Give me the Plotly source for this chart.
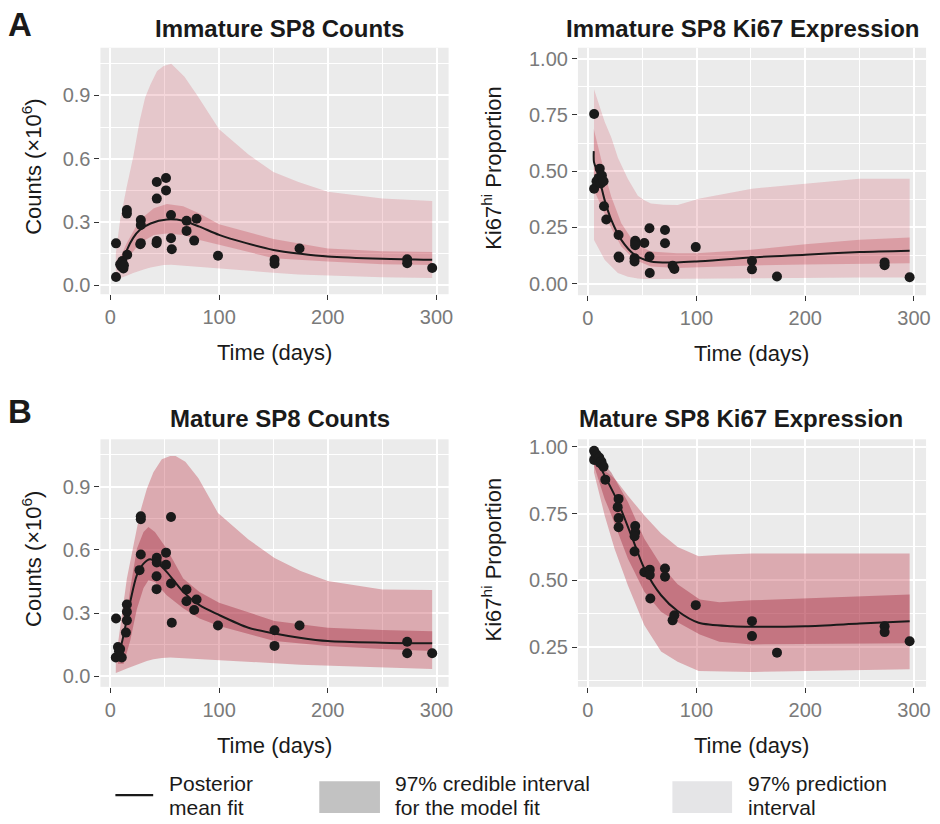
import plotly.graph_objects as go

# ---------------- data ----------------
# Panel A-left: Immature SP8 counts (x10^6)
imm_cnt_t = [5.2, 5.2, 9, 10, 11, 12, 12.5, 15.2, 15.2, 15.5, 28, 28, 28, 27.5, 42.7, 42.7, 42.5, 42.7,
             51.2, 51.2, 55.8, 55.8, 56.5, 70.1, 70.1, 77.1, 79.3, 99, 151, 151, 174, 273, 273, 296]
imm_cnt_y = [0.199, 0.040, 0.10, 0.09, 0.115, 0.08, 0.095, 0.357, 0.34, 0.145, 0.31, 0.286, 0.2, 0.195,
             0.49, 0.411, 0.2, 0.21, 0.509, 0.45, 0.333, 0.223, 0.171, 0.306, 0.258, 0.212, 0.316, 0.14,
             0.121, 0.102, 0.175, 0.124, 0.105, 0.082]
imm_cnt_mean_t = [11, 15, 21, 27, 37, 52, 67, 82, 100, 125, 150, 175, 200, 250, 296]
imm_cnt_mean = [0.105, 0.165, 0.225, 0.262, 0.293, 0.312, 0.306, 0.278, 0.239, 0.2, 0.168, 0.15, 0.137, 0.126, 0.121]
imm_cnt_ci_t = [9, 15, 27, 40, 52, 67, 82, 100, 150, 200, 250, 296]
imm_cnt_ci_hi = [0.13, 0.2, 0.31, 0.365, 0.385, 0.375, 0.34, 0.29, 0.22, 0.175, 0.162, 0.158]
imm_cnt_ci_lo = [0.07, 0.121, 0.2, 0.239, 0.246, 0.239, 0.215, 0.192, 0.129, 0.113, 0.1, 0.097]
imm_cnt_pi_t = [5, 9, 15, 21, 27, 32, 37, 43, 49, 56, 68, 80, 100, 127, 150, 173, 200, 250, 296]
imm_cnt_pi_hi = [0.15, 0.31, 0.466, 0.608, 0.78, 0.89, 0.953, 1.016, 1.04, 1.05, 0.99, 0.9, 0.74, 0.62,
                 0.537, 0.49, 0.443, 0.411, 0.40]
imm_cnt_pi_lo = [0.027, 0.035, 0.045, 0.058, 0.07, 0.078, 0.085, 0.092, 0.097, 0.098, 0.095, 0.088, 0.08,
                 0.07, 0.06, 0.052, 0.045, 0.038, 0.035]

# Panel A-right: Immature SP8 Ki67 proportion
imm_ki_t = [5.8, 5.8, 11, 8, 10, 12, 13, 14.5, 14.9, 17, 28.3, 28.3, 29, 43.6, 43.6, 43.6, 43, 43, 52,
            56.7, 56.7, 57, 71, 71, 78, 79.6, 99.3, 151, 151, 174, 273, 273, 296]
imm_ki_y = [0.754, 0.422, 0.511, 0.455, 0.47, 0.445, 0.48, 0.455, 0.344, 0.285, 0.216, 0.12, 0.115, 0.19,
            0.18, 0.17, 0.113, 0.098, 0.18, 0.246, 0.12, 0.047, 0.238, 0.179, 0.079, 0.065, 0.162, 0.10,
            0.063, 0.031, 0.094, 0.081, 0.028]
imm_ki_mean_t = [5.5, 5.7, 9.4, 15.5, 21.6, 30.8, 43, 58, 82, 100, 150, 200, 250, 296]
imm_ki_mean = [0.589, 0.54, 0.489, 0.371, 0.283, 0.194, 0.128, 0.098, 0.094, 0.098, 0.116, 0.128, 0.14, 0.146]
imm_ki_ci_t = [5.5, 15.5, 21.6, 30.8, 43, 58, 82, 100, 150, 200, 250, 296]
imm_ki_ci_hi = [0.687, 0.489, 0.386, 0.268, 0.179, 0.143, 0.135, 0.135, 0.15, 0.175, 0.195, 0.205]
imm_ki_ci_lo = [0.417, 0.312, 0.246, 0.165, 0.106, 0.076, 0.069, 0.072, 0.08, 0.085, 0.088, 0.09]
imm_ki_pi_t = [5.7, 15.5, 21.6, 27.7, 36.9, 46, 52, 58, 70, 82.6, 103, 151, 200, 250, 296]
imm_ki_pi_hi = [0.864, 0.72, 0.65, 0.56, 0.465, 0.39, 0.37, 0.356, 0.35, 0.349, 0.378, 0.422, 0.444, 0.466, 0.466]
imm_ki_pi_lo = [0.194, 0.106, 0.075, 0.047, 0.03, 0.022, 0.02, 0.02, 0.02, 0.02, 0.02, 0.022, 0.025, 0.027, 0.027]

# Panel B-left: Mature SP8 counts (x10^6)
mat_cnt_t = [5.2, 5, 10.5, 7, 9, 8, 15.2, 15.2, 15.2, 14.3, 28, 28, 28, 26.8, 42.7, 42.7, 42.5, 42.5,
             51.2, 51.2, 55.8, 55.8, 56.5, 70, 70, 77.1, 79.3, 99, 151, 151, 174, 273, 273, 296]
mat_cnt_y = [0.275, 0.09, 0.09, 0.14, 0.13, 0.12, 0.341, 0.307, 0.266, 0.208, 0.759, 0.745, 0.578, 0.504,
             0.563, 0.54, 0.475, 0.414, 0.587, 0.53, 0.756, 0.441, 0.255, 0.412, 0.357, 0.315, 0.365,
             0.242, 0.219, 0.145, 0.242, 0.165, 0.11, 0.11]
mat_cnt_mean_t = [6, 7.6, 12.2, 18.3, 24.4, 30.5, 36.6, 42.7, 51.8, 67, 82, 99, 127, 151, 174, 200, 250, 296]
mat_cnt_mean = [0.078, 0.102, 0.197, 0.354, 0.48, 0.535, 0.556, 0.54, 0.496, 0.401, 0.338, 0.294, 0.231,
                0.204, 0.184, 0.168, 0.16, 0.157]
mat_cnt_ci_t = [7, 12.2, 18.3, 24.4, 30.5, 35, 41, 51.8, 67, 82, 100, 151, 200, 250, 296]
mat_cnt_ci_hi = [0.09, 0.18, 0.417, 0.606, 0.685, 0.709, 0.685, 0.606, 0.464, 0.40, 0.35, 0.263, 0.231, 0.22, 0.215]
mat_cnt_ci_lo = [0.06, 0.06, 0.17, 0.32, 0.42, 0.456, 0.448, 0.385, 0.323, 0.275, 0.239, 0.168, 0.145, 0.13, 0.121]
mat_cnt_pi_t = [5, 9.1, 15.2, 21.3, 27.4, 33.5, 39.6, 47.3, 55, 60, 69, 81, 99, 127, 151, 175, 200, 250, 296]
mat_cnt_pi_hi = [0.08, 0.244, 0.464, 0.622, 0.779, 0.889, 0.968, 1.03, 1.045, 1.045, 1.018, 0.94, 0.775,
                 0.649, 0.562, 0.5, 0.452, 0.412, 0.41]
mat_cnt_pi_lo = [0.016, 0.025, 0.038, 0.05, 0.062, 0.073, 0.082, 0.088, 0.09, 0.09, 0.088, 0.084, 0.08,
                 0.07, 0.063, 0.056, 0.05, 0.042, 0.035]

# Panel B-right: Mature SP8 Ki67 proportion
mat_ki_t = [5.8, 5.8, 7, 8, 9.5, 10.5, 11, 12.5, 13, 14.5, 16.1, 28.3, 27.5, 28.3, 28.3, 43.6, 43.6, 43, 43,
            52, 54, 57, 57, 57.5, 71, 71, 78, 79.6, 99.3, 151, 151, 174, 273, 273, 296]
mat_ki_y = [0.985, 0.951, 0.975, 0.97, 0.955, 0.96, 0.94, 0.945, 0.935, 0.925, 0.877, 0.805, 0.774, 0.733,
            0.699, 0.703, 0.68, 0.665, 0.608, 0.53, 0.53, 0.54, 0.52, 0.432, 0.544, 0.513, 0.35, 0.369,
            0.407, 0.347, 0.291, 0.229, 0.328, 0.306, 0.272]
mat_ki_mean_t = [5.7, 15.5, 27.7, 40, 52, 67.4, 82.6, 102, 133, 151, 200, 250, 296]
mat_ki_mean = [0.97, 0.892, 0.793, 0.668, 0.544, 0.444, 0.385, 0.341, 0.328, 0.326, 0.328, 0.338, 0.347]
mat_ki_ci_t = [5.7, 15.5, 21.6, 36.9, 52, 67.4, 82.6, 103, 121, 151, 200, 250, 296]
mat_ki_ci_hi = [0.979, 0.93, 0.904, 0.793, 0.656, 0.556, 0.485, 0.428, 0.418, 0.425, 0.433, 0.44, 0.447]
mat_ki_ci_lo = [0.93, 0.805, 0.745, 0.581, 0.457, 0.382, 0.343, 0.297, 0.27, 0.26, 0.26, 0.262, 0.264]
mat_ki_pi_hi_t = [5.7, 10.6, 15.5, 21.6, 26, 36.9, 52, 67.4, 82.6, 102, 121, 151, 200, 250, 296]
mat_ki_pi_hi = [0.96, 0.932, 0.91, 0.892, 0.875, 0.817, 0.743, 0.675, 0.625, 0.59, 0.596, 0.60, 0.60, 0.60, 0.60]
mat_ki_pi_lo_t = [5.7, 15.5, 24.6, 36.9, 52, 67.4, 82.6, 102, 151, 200, 250, 296]
mat_ki_pi_lo = [0.904, 0.743, 0.618, 0.481, 0.332, 0.233, 0.195, 0.16, 0.157, 0.16, 0.163, 0.167]

titles = ["Immature SP8 Counts", "Immature SP8 Ki67 Expression",
          "Mature SP8 Counts", "Mature SP8 Ki67 Expression"]
x_title = "Time (days)"
y_titles = ["Counts (×10<sup>6</sup>)", "Ki67<sup>hi</sup> Proportion",
            "Counts (×10<sup>6</sup>)", "Ki67<sup>hi</sup> Proportion"]
legend_labels = [["Posterior", "mean fit"], ["97% credible interval", "for the model fit"],
                 ["97% prediction", "interval"]]

# ---------------- layout helpers ----------------
W, H = 940, 824
FONT = "Liberation Sans, Arial, sans-serif"


def fx(px):
    return px / W


def fy(py):
    return 1 - py / H


panels = [
    dict(t=imm_cnt_t, y=imm_cnt_y, mt=imm_cnt_mean_t, m=imm_cnt_mean,
         cht=imm_cnt_ci_t, ch=imm_cnt_ci_hi, clt=imm_cnt_ci_t, cl=imm_cnt_ci_lo,
         pht=imm_cnt_pi_t, ph=imm_cnt_pi_hi, plt=imm_cnt_pi_t, pl=imm_cnt_pi_lo,
         box=(101, 451, 45, 293), yr=[-0.042, 1.126], dt=0.3, fmt=".1f",
         pi_col="rgba(205,55,75,0.2)", ci_col="rgba(190,50,65,0.28)",
         tdx=5, tdy=19, ytx=69),
    dict(t=imm_ki_t, y=imm_ki_y, mt=imm_ki_mean_t, m=imm_ki_mean,
         cht=imm_ki_ci_t, ch=imm_ki_ci_hi, clt=imm_ki_ci_t, cl=imm_ki_ci_lo,
         pht=imm_ki_pi_t, ph=imm_ki_pi_hi, plt=imm_ki_pi_t, pl=imm_ki_pi_lo,
         box=(581, 931, 45, 294), yr=[-0.052, 1.049], dt=0.25, fmt=".2f",
         pi_col="rgba(205,55,75,0.2)", ci_col="rgba(190,50,65,0.28)",
         tdx=-10, tdy=19, ytx=86),
    dict(t=mat_cnt_t, y=mat_cnt_y, mt=mat_cnt_mean_t, m=mat_cnt_mean,
         cht=mat_cnt_ci_t, ch=mat_cnt_ci_hi, clt=mat_cnt_ci_t, cl=mat_cnt_ci_lo,
         pht=mat_cnt_pi_t, ph=mat_cnt_pi_hi, plt=mat_cnt_pi_t, pl=mat_cnt_pi_lo,
         box=(101, 451, 439, 688), yr=[-0.049, 1.124], dt=0.3, fmt=".1f",
         pi_col="rgba(190,50,65,0.35)", ci_col="rgba(165,45,65,0.42)",
         tdx=5, tdy=21, ytx=69),
    dict(t=mat_ki_t, y=mat_ki_y, mt=mat_ki_mean_t, m=mat_ki_mean,
         cht=mat_ki_ci_t, ch=mat_ki_ci_hi, clt=mat_ki_ci_t, cl=mat_ki_ci_lo,
         pht=mat_ki_pi_hi_t, ph=mat_ki_pi_hi, plt=mat_ki_pi_lo_t, pl=mat_ki_pi_lo,
         box=(581, 931, 439, 688), yr=[0.101, 1.028], dt=0.25, fmt=".2f",
         pi_col="rgba(190,50,65,0.35)", ci_col="rgba(165,45,65,0.42)",
         tdx=-11, tdy=21, ytx=86),
]

fig = go.Figure()
layout_axes = {}
annotations = []

for i, p in enumerate(panels):
    k = "" if i == 0 else str(i + 1)
    xa, ya = "x" + k, "y" + k
    x0, x1, y0, y1 = p["box"]
    # prediction interval
    fig.add_trace(go.Scatter(x=p["pht"] + p["plt"][::-1], y=p["ph"] + p["pl"][::-1],
                             fill="toself", fillcolor=p["pi_col"], mode="lines",
                             line=dict(width=0), hoverinfo="skip", showlegend=False,
                             xaxis=xa, yaxis=ya))
    # credible interval
    fig.add_trace(go.Scatter(x=p["cht"] + p["clt"][::-1], y=p["ch"] + p["cl"][::-1],
                             fill="toself", fillcolor=p["ci_col"], mode="lines",
                             line=dict(width=0), hoverinfo="skip", showlegend=False,
                             xaxis=xa, yaxis=ya))
    # posterior mean
    fig.add_trace(go.Scatter(x=p["mt"], y=p["m"], mode="lines",
                             line=dict(color="#1a1a1a", width=2, shape="spline", smoothing=0.8),
                             showlegend=False, xaxis=xa, yaxis=ya))
    # observations
    fig.add_trace(go.Scatter(x=p["t"], y=p["y"], mode="markers",
                             marker=dict(color="#1a1a1a", size=10),
                             showlegend=False, xaxis=xa, yaxis=ya))

    common = dict(showgrid=True, gridcolor="white", gridwidth=1.6, zeroline=False, showline=False,
                  ticks="outside", ticklen=5, tickwidth=1.2, tickcolor="#333333",
                  tickfont=dict(family=FONT, size=20, color="#7a7a7a"))
    layout_axes["xaxis" + k] = dict(
        domain=[fx(x0), fx(x1)], anchor=ya, range=[-9.1, 311.1],
        tickmode="linear", tick0=0, dtick=100,
        minor=dict(tickmode="linear", tick0=50, dtick=100, showgrid=True,
                   gridcolor="white", gridwidth=0.8, ticks=""),
        **common)
    layout_axes["yaxis" + k] = dict(
        domain=[fy(y1), fy(y0)], anchor=xa, range=p["yr"],
        tickmode="linear", tick0=0, dtick=p["dt"], tickformat=p["fmt"],
        minor=dict(tickmode="linear", tick0=p["dt"] / 2, dtick=p["dt"], showgrid=True,
                   gridcolor="white", gridwidth=0.8, ticks=""),
        **common)

    cx = (x0 + x1) / 2
    # subplot title
    annotations.append(dict(text="<b>%s</b>" % titles[i], x=fx(cx + p["tdx"]), y=fy(y0 - p["tdy"]),
                            xref="paper", yref="paper", showarrow=False,
                            font=dict(family=FONT, size=24, color="#1a1a1a"),
                            xanchor="center", yanchor="middle"))
    # x axis title
    annotations.append(dict(text=x_title, x=fx(cx), y=fy(y1 + 59),
                            xref="paper", yref="paper", showarrow=False,
                            font=dict(family=FONT, size=22, color="#1a1a1a"),
                            xanchor="center", yanchor="middle"))
    # y axis title
    annotations.append(dict(text=y_titles[i], x=fx(x0 - p["ytx"]), y=fy((y0 + y1) / 2 - 4),
                            xref="paper", yref="paper", showarrow=False, textangle=-90,
                            font=dict(family=FONT, size=22, color="#1a1a1a"),
                            xanchor="center", yanchor="middle"))

# panel letters
for letter, py in (("A", 22), ("B", 411)):
    annotations.append(dict(text="<b>%s</b>" % letter, x=fx(6), y=fy(py), xref="paper", yref="paper",
                            showarrow=False, xanchor="left", yanchor="middle",
                            font=dict(family=FONT, size=33, color="#1a1a1a")))

# legend
shapes = [
    dict(type="line", xref="paper", yref="paper", x0=fx(116), x1=fx(154), y0=fy(797), y1=fy(797),
         line=dict(color="#1a1a1a", width=2.2)),
]
for (bx0, bx1, col) in ((321, 382, "#c2c2c2"), (676, 736, "#e5e5e7")):
    shapes.append(dict(type="rect", xref="paper", yref="paper", x0=fx(bx0), x1=fx(bx1),
                       y0=fy(815), y1=fy(783), fillcolor=col, line=dict(width=0), layer="above"))

for (lx, lines) in ((168, legend_labels[0]), (395, legend_labels[1]), (750, legend_labels[2])):
    for j, txt in enumerate(lines):
        annotations.append(dict(text=txt, x=fx(lx), y=fy(785 + 24 * j), xref="paper", yref="paper",
                                showarrow=False, xanchor="left", yanchor="middle",
                                font=dict(family=FONT, size=21, color="#1a1a1a")))

fig.update_layout(width=W, height=H, margin=dict(l=0, r=0, t=0, b=0),
                  paper_bgcolor="white", plot_bgcolor="#EBEBEB",
                  annotations=annotations, shapes=shapes, showlegend=False,
                  **layout_axes)

fig.write_html("out.html")
